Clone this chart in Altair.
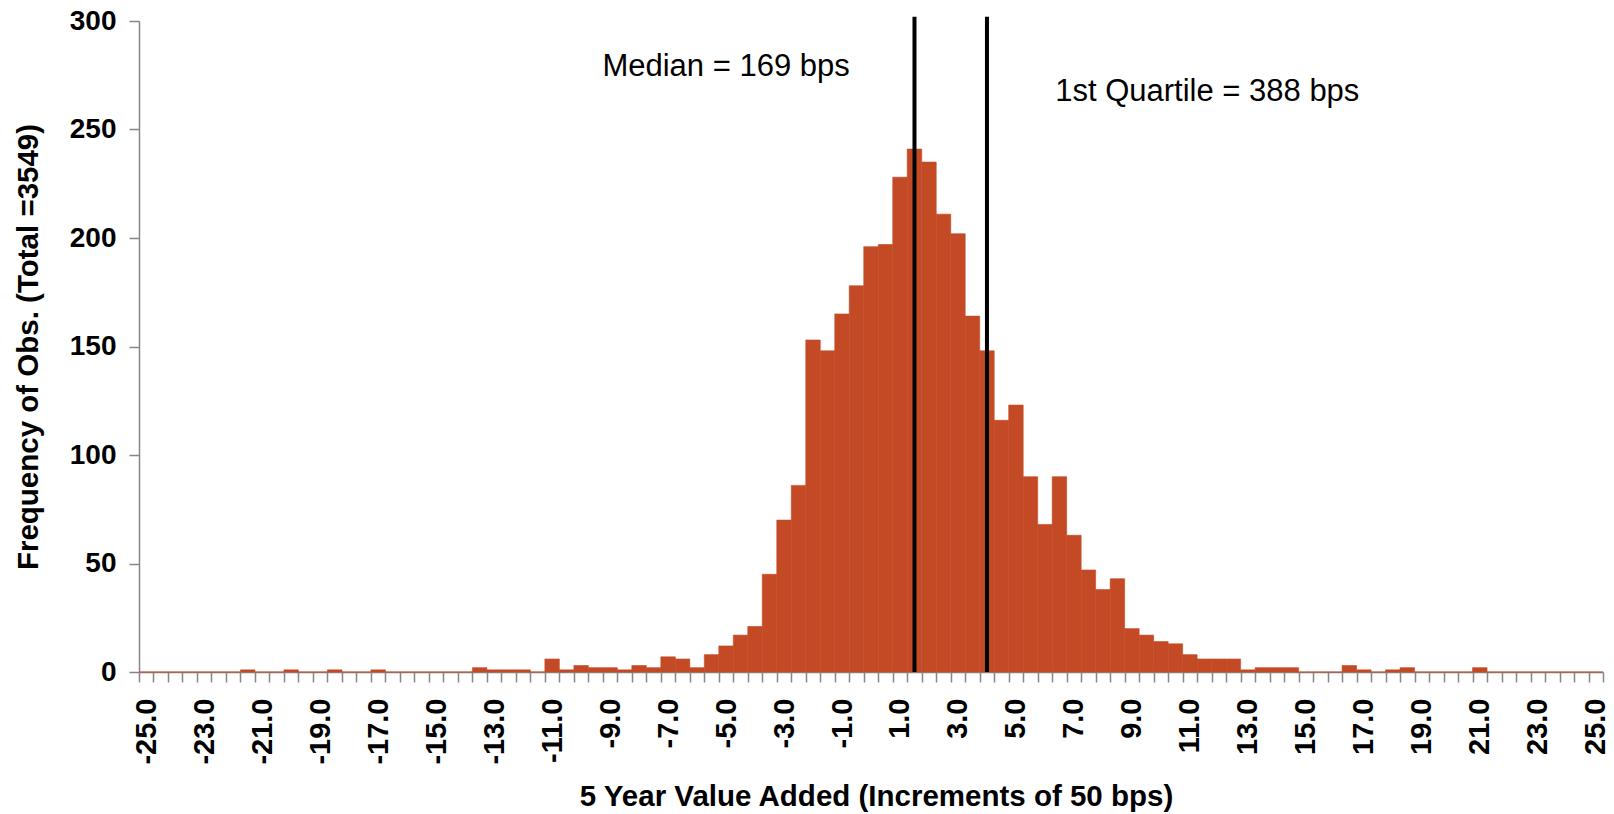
import altair as alt
import pandas as pd

# Histogram categories (bin centres, increments of 0.5) and counts
bin_centers = [round(-25.0 + 0.5 * i, 1) for i in range(101)]
counts = [
    0, 0, 0, 0, 0, 0, 0, 1, 0, 0,
    1, 0, 0, 1, 0, 0, 1, 0, 0, 0,
    0, 0, 0, 2, 1, 1, 1, 0, 6, 1,
    3, 2, 2, 1, 3, 2, 7, 6, 2, 8,
    12, 17, 21, 45, 70, 86, 153, 148, 165, 178,
    196, 197, 228, 241, 235, 211, 202, 164, 148, 116,
    123, 90, 68, 90, 63, 47, 38, 43, 20, 17,
    14, 13, 8, 6, 6, 6, 1, 2, 2, 2,
    0, 0, 0, 3, 1, 0, 1, 2, 0, 0,
    0, 0, 2, 0, 0, 0, 0, 0, 0, 0,
    0,
]

marker_values = [1.5, 4.0]
marker_top = 302

note_texts = ["Median = 169 bps", "1st Quartile = 388 bps"]
note_x = [-5.0, 11.6]
note_y = [274.6, 263.0]

y_ticks = [0, 50, 100, 150, 200, 250, 300]
x_label_values = [-25 + 2 * k for k in range(26)]
x_tick_values = [-25.25 + 0.5 * k for k in range(102)]

BAR = "#C44A26"
AX = "#868686"
FONT = "Liberation Sans"

hist = pd.DataFrame({"bin": bin_centers, "count": counts})
rules_df = pd.DataFrame({"pos": marker_values})
notes_df = pd.DataFrame({"label": note_texts, "nx": note_x, "ny": note_y})

xscale = alt.Scale(domain=[-25.25, 25.25], nice=False, zero=False)
yscale = alt.Scale(domain=[0, 300], nice=False)

tick_axis = alt.Axis(
    orient="bottom", values=x_tick_values, labels=False, ticks=True, tickSize=10,
    tickColor=AX, tickWidth=1.5, domain=True, domainColor=AX, domainWidth=1.5,
    grid=False, title=None,
)

label_axis = alt.Axis(
    orient="bottom", values=x_label_values, ticks=False, tickSize=0, domain=False,
    grid=False,
    labelExpr="(datum.value < 0 ? '-' : '') + format(abs(datum.value), '.1f')",
    labelAngle=270, labelAlign="right", labelBaseline="middle",
    labelFont=FONT, labelFontSize=29, labelFontWeight="bold", labelColor="black",
    labelPadding=26, labelOverlap=False,
    title="5 Year Value Added (Increments of 50 bps)",
    titleFont=FONT, titleFontSize=29.5, titleFontWeight="bold", titleColor="black",
    titleX=737, titleY=133, titleBaseline="alphabetic", titleAlign="center",
)

y_axis = alt.Axis(
    orient="left", values=y_ticks, tickSize=10, tickColor=AX, tickWidth=1.5,
    domainColor=AX, domainWidth=1.5, grid=False,
    labelFont=FONT, labelFontSize=28, labelFontWeight="bold", labelColor="black",
    labelPadding=13,
    title="Frequency of Obs. (Total =3549)",
    titleFont=FONT, titleFontSize=29.5, titleFontWeight="bold", titleColor="black",
    titleX=-102, titleY=325.5, titleAngle=270, titleBaseline="alphabetic",
    titleAlign="center",
)

bars = (
    alt.Chart(hist)
    .transform_calculate(x0="datum.bin - 0.25", x1="datum.bin + 0.25")
    .mark_rect(color=BAR, stroke=BAR, strokeWidth=0.6)
    .encode(
        x=alt.X("x0:Q", scale=xscale, axis=tick_axis),
        x2="x1:Q",
        y=alt.Y("count:Q", scale=yscale, axis=y_axis),
        y2=alt.Y2Datum(0),
    )
)

rules = (
    alt.Chart(rules_df)
    .mark_rule(color="black", strokeWidth=4)
    .encode(
        x=alt.X("pos:Q", scale=xscale, axis=label_axis),
        y=alt.YDatum(marker_top, axis=None),
        y2=alt.Y2Datum(0),
    )
)

notes = (
    alt.Chart(notes_df)
    .mark_text(font=FONT, fontSize=31, align="center", baseline="alphabetic", color="black")
    .encode(
        x=alt.X("nx:Q", scale=xscale, axis=None),
        y=alt.Y("ny:Q", scale=yscale, axis=None),
        text="label:N",
    )
)

chart = (
    alt.layer(bars, rules, notes)
    .resolve_axis(x="independent", y="independent")
    .properties(
        width=1464, height=651,
        padding={"left": 131, "top": 13, "right": 3, "bottom": 142},
        autosize=alt.AutoSizeParams(type="none"),
        background="white",
    )
    .configure_view(stroke=None)
)

chart.save("out.html", embed_options={"renderer": "svg", "actions": False})
